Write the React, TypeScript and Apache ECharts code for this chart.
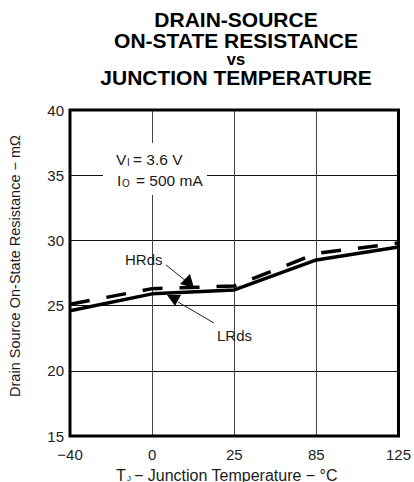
import React, { useEffect, useRef } from "react";
import * as echarts from "echarts";

const temps = ["−40", "0", "25", "85", "125"];
const lrds = [24.6, 25.9, 26.2, 28.5, 29.5];
const hrds = [25.1, 26.3, 26.5, 29.0, 29.8];
const yMin = 15;
const yMax = 40;
const yStep = 5;
const titleLines = ["DRAIN-SOURCE", "ON-STATE RESISTANCE", "vs", "JUNCTION TEMPERATURE"];

const FONT = "'Liberation Sans', Arial, Helvetica, sans-serif";

export default function App() {
  const ref = useRef<HTMLDivElement>(null);
  useEffect(() => {
    if (!ref.current) return;
    const chart = echarts.init(ref.current, null, { renderer: "svg" });
    const txt = (x: number, y: number, text: string, size: number, extra: any = {}) => ({
      type: "text",
      x,
      y,
      z: 100,
      style: {
        text,
        fontFamily: FONT,
        fontSize: size,
        fill: "#1a1a1a",
        align: "left",
        verticalAlign: "middle",
        ...extra,
      },
    });
    const titleY = [19.5, 40, 58.5, 77.5];
    const titleSize = [21, 21, 16.5, 21];
    chart.setOption({
      animation: false,
      backgroundColor: "#fff",
      grid: {
        left: 70,
        right: 15,
        top: 110,
        bottom: 46,
        show: true,
        borderColor: "#000",
        borderWidth: 3,
        z: 10,
      },
      xAxis: {
        type: "category",
        data: temps,
        boundaryGap: false,
        axisLine: { show: false },
        axisTick: { show: false },
        axisLabel: {
          fontFamily: FONT,
          fontSize: 15,
          color: "#222",
          margin: 11,
        },
        splitLine: { show: true, lineStyle: { color: "#444", width: 1 } },
      },
      yAxis: {
        type: "value",
        min: yMin,
        max: yMax,
        interval: yStep,
        axisLine: { show: false },
        axisTick: { show: false },
        axisLabel: {
          fontFamily: FONT,
          fontSize: 15,
          color: "#222",
          margin: 6,
        },
        splitLine: { show: true, lineStyle: { color: "#111", width: 1 } },
      },
      series: [
        {
          name: "LRds",
          type: "line",
          data: lrds,
          symbol: "none",
          lineStyle: { color: "#000", width: 3.5 },
          z: 5,
        },
        {
          name: "HRds",
          type: "line",
          data: hrds,
          symbol: "none",
          lineStyle: { color: "#000", width: 3.5, type: [20, 17] },
          z: 5,
        },
      ],
      graphic: [
        ...titleLines.map((t, i) =>
          txt(236, titleY[i], t, titleSize[i], {
            fontWeight: "bold",
            align: "center",
            fill: "#000",
          })
        ),
        {
          type: "rect",
          shape: { x: 103, y: 143, width: 104, height: 52 },
          style: { fill: "#fff" },
          z: 50,
        },
        txt(116, 159, "V", 15.5),
        txt(127, 162, "I", 10),
        txt(133, 159, "= 3.6 V", 15.5),
        txt(117, 180, "I", 15.5),
        txt(122, 183, "O", 10),
        txt(136, 180, "= 500 mA", 15.5),
        txt(125, 259, "HRds", 15),
        {
          type: "line",
          shape: { x1: 166, y1: 265, x2: 186, y2: 281 },
          style: { stroke: "#222", lineWidth: 1 },
          z: 60,
        },
        {
          type: "polygon",
          shape: { points: [[180, 284], [190, 274], [194, 288]] },
          style: { fill: "#000" },
          z: 60,
        },
        txt(217, 335, "LRds", 15),
        {
          type: "line",
          shape: { x1: 214, y1: 323, x2: 178, y2: 302 },
          style: { stroke: "#222", lineWidth: 1 },
          z: 60,
        },
        {
          type: "polygon",
          shape: { points: [[167, 295], [181, 295], [175, 306]] },
          style: { fill: "#000" },
          z: 60,
        },
        {
          ...txt(15, 266, "Drain Source On-State Resistance − mΩ", 14.5, {
            align: "center",
          }),
          rotation: Math.PI / 2,
        },
        txt(116, 475, "T", 16),
        txt(127, 478, "J", 8),
        txt(134, 475, "− Junction Temperature − °C", 16),
      ],
    });
    return () => chart.dispose();
  }, []);
  return (
    <div
      ref={ref}
      style={{ position: "fixed", left: 0, top: 0, width: 414, height: 482 }}
    />
  );
}
